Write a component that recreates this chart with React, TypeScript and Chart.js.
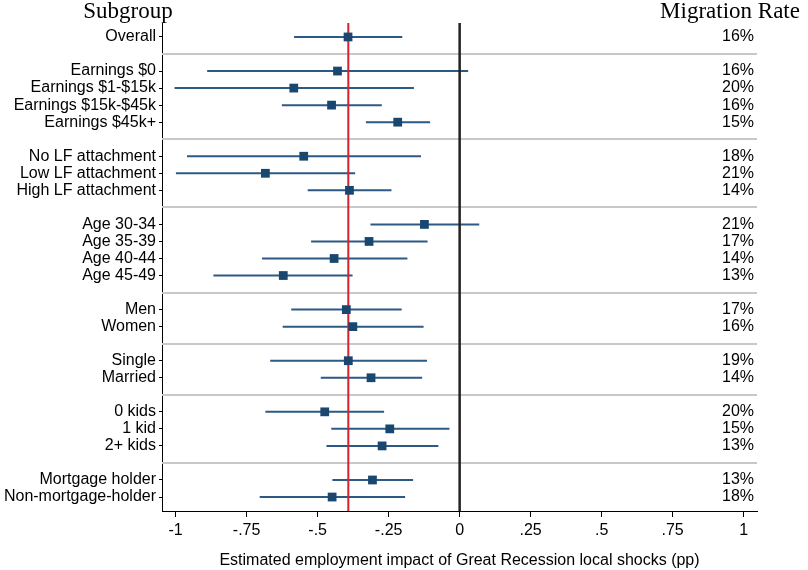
import React, { useEffect, useRef } from "react";
import { Chart, registerables } from "chart.js";

Chart.register(...registerables);

const subgroups = [
  "Overall",
  "Earnings $0",
  "Earnings $1-$15k",
  "Earnings $15k-$45k",
  "Earnings $45k+",
  "No LF attachment",
  "Low LF attachment",
  "High LF attachment",
  "Age 30-34",
  "Age 35-39",
  "Age 40-44",
  "Age 45-49",
  "Men",
  "Women",
  "Single",
  "Married",
  "0 kids",
  "1 kid",
  "2+ kids",
  "Mortgage holder",
  "Non-mortgage-holder",
];
const rowPositions = [0, 2, 3, 4, 5, 7, 8, 9, 11, 12, 13, 14, 16, 17, 19, 20, 22, 23, 24, 26, 27];
const separatorRows = [1, 6, 10, 15, 18, 21, 25];

const estimates = [
  -0.393, -0.43, -0.584, -0.451, -0.218, -0.549, -0.684, -0.388, -0.124, -0.319, -0.442,
  -0.621, -0.399, -0.376, -0.392, -0.312, -0.475, -0.246, -0.273, -0.307, -0.449,
];
const ciLow = [
  -0.583, -0.889, -1.004, -0.626, -0.33, -0.96, -0.999, -0.535, -0.314, -0.523, -0.696,
  -0.867, -0.593, -0.623, -0.667, -0.489, -0.684, -0.452, -0.469, -0.448, -0.704,
];
const ciHigh = [
  -0.202, 0.03, -0.161, -0.274, -0.104, -0.136, -0.368, -0.24, 0.069, -0.113, -0.184,
  -0.377, -0.204, -0.127, -0.115, -0.132, -0.266, -0.036, -0.075, -0.164, -0.192,
];
const migrationRates = [
  "16%", "16%", "20%", "16%", "15%", "18%", "21%", "14%", "21%", "17%", "14%",
  "13%", "17%", "16%", "19%", "14%", "20%", "15%", "13%", "13%", "18%",
];
const overallEffect = -0.392;
const xTickValues = [-1, -0.75, -0.5, -0.25, 0, 0.25, 0.5, 0.75, 1];
const xTickLabels = ["-1", "-.75", "-.5", "-.25", "0", ".25", ".5", ".75", "1"];

const NAVY = "#1a476f";
const CI_COLOR = "#2c5a85";

export default function App() {
  const canvasRef = useRef<HTMLCanvasElement | null>(null);

  useEffect(() => {
    document.body.style.margin = "0";
    const canvas = canvasRef.current;
    if (!canvas) return;

    const ciData: any[] = [];
    rowPositions.forEach((r, i) => {
      ciData.push({ x: ciLow[i], y: r });
      ciData.push({ x: ciHigh[i], y: r });
      ciData.push({ x: null, y: null });
    });
    const pointData = rowPositions.map((r, i) => ({ x: estimates[i], y: r }));

    const overlay = {
      id: "overlay",
      beforeDatasetsDraw(chart: any) {
        const { ctx, chartArea, scales } = chart;
        ctx.save();
        ctx.strokeStyle = "#c8c8c8";
        ctx.lineWidth = 2;
        separatorRows.forEach((s) => {
          const y = Math.round(scales.y.getPixelForValue(s));
          ctx.beginPath();
          ctx.moveTo(chartArea.left, y);
          ctx.lineTo(chartArea.right, y);
          ctx.stroke();
        });
        ctx.restore();
      },
      afterDatasetDraw(chart: any, args: any) {
        if (args.index !== 1) return;
        const { ctx, chartArea, scales } = chart;
        ctx.save();
        const x0 = scales.x.getPixelForValue(0);
        ctx.strokeStyle = "#222222";
        ctx.lineWidth = 2.5;
        ctx.beginPath();
        ctx.moveTo(x0, chartArea.top);
        ctx.lineTo(x0, chartArea.bottom);
        ctx.stroke();
        const xr = scales.x.getPixelForValue(overallEffect);
        ctx.strokeStyle = "#d5212f";
        ctx.lineWidth = 2;
        ctx.beginPath();
        ctx.moveTo(xr, chartArea.top);
        ctx.lineTo(xr, chartArea.bottom);
        ctx.stroke();
        ctx.restore();
      },
      afterDraw(chart: any) {
        const { ctx, chartArea, scales } = chart;
        ctx.save();
        ctx.fillStyle = "#000";
        ctx.font = '16px "Liberation Sans", Arial, sans-serif';
        ctx.textAlign = "right";
        ctx.textBaseline = "middle";
        rowPositions.forEach((r, i) => {
          ctx.fillText(migrationRates[i], chartArea.right - 3, scales.y.getPixelForValue(r));
        });
        ctx.font = '23px "Liberation Serif", "Times New Roman", serif';
        ctx.textBaseline = "alphabetic";
        ctx.textAlign = "center";
        ctx.fillText("Subgroup", 128, 18);
        ctx.fillText("Migration Rate", 730, 18);
        ctx.restore();
      },
    };

    const chart = new Chart(canvas, {
      type: "scatter",
      data: {
        datasets: [
          {
            data: pointData,
            pointStyle: "rect",
            pointRadius: 6.2,
            pointHoverRadius: 6.2,
            backgroundColor: NAVY,
            borderColor: NAVY,
            borderWidth: 0,
          },
          {
            data: ciData,
            showLine: true,
            spanGaps: false,
            pointRadius: 0,
            pointHoverRadius: 0,
            borderColor: CI_COLOR,
            borderWidth: 2,
          },
        ],
      },
      options: {
        responsive: false,
        animation: false,
        devicePixelRatio: 1,
        layout: { padding: { top: 23, right: 51, left: 0, bottom: 0 } },
        plugins: {
          legend: { display: false },
          tooltip: { enabled: false },
        },
        scales: {
          x: {
            type: "linear",
            min: -1.048,
            max: 1.047,
            afterBuildTicks: (scale: any) => {
              scale.ticks = xTickValues.map((v) => ({ value: v }));
            },
            afterFit: (scale: any) => {
              scale.height = 59;
            },
            ticks: {
              autoSkip: false,
              maxRotation: 0,
              padding: 4,
              color: "#000",
              font: { size: 16, family: '"Liberation Sans", Arial, sans-serif' },
              callback: (v: any) => {
                const idx = xTickValues.findIndex((t) => Math.abs(t - Number(v)) < 1e-9);
                return idx >= 0 ? xTickLabels[idx] : "";
              },
            },
            grid: { drawOnChartArea: false, drawTicks: true, tickLength: 6, color: "#000" },
            border: { display: true, color: "#000", width: 1 },
            title: {
              display: true,
              text: "Estimated employment impact of Great Recession local shocks (pp)",
              color: "#000",
              font: { size: 16, family: '"Liberation Sans", Arial, sans-serif' },
              padding: { top: 6, bottom: 0 },
            },
          },
          y: {
            type: "linear",
            reverse: true,
            min: -0.82,
            max: 27.82,
            afterBuildTicks: (scale: any) => {
              scale.ticks = rowPositions.map((v) => ({ value: v }));
            },
            afterFit: (scale: any) => {
              scale.width = 162;
            },
            ticks: {
              autoSkip: false,
              padding: 3,
              color: "#000",
              font: { size: 16, family: '"Liberation Sans", Arial, sans-serif' },
              callback: (v: any) => {
                const idx = rowPositions.indexOf(Number(v));
                return idx >= 0 ? subgroups[idx] : "";
              },
            },
            grid: { drawOnChartArea: false, drawTicks: true, tickLength: 3, color: "#000" },
            border: { display: true, color: "#000", width: 1 },
          },
        },
      },
      plugins: [overlay],
    });

    return () => chart.destroy();
  }, []);

  return (
    <div style={{ width: 808, height: 570 }}>
      <canvas ref={canvasRef} width={808} height={570} style={{ display: "block", width: 808, height: 570 }} />
    </div>
  );
}
